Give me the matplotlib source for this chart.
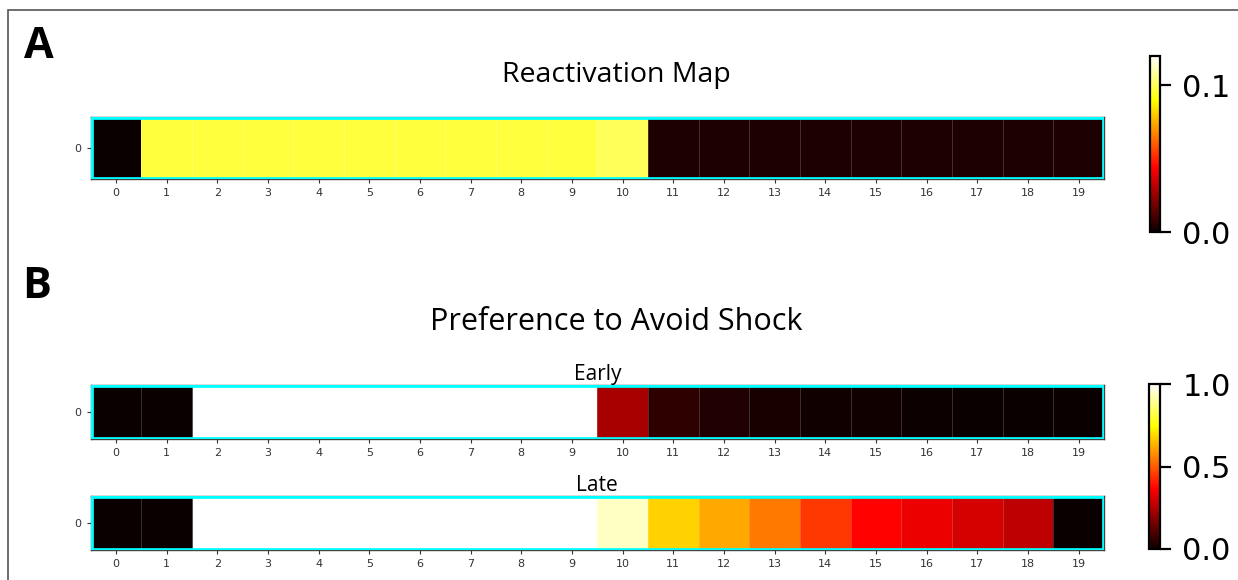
import numpy as np
import matplotlib
matplotlib.use("Agg")
import matplotlib.pyplot as plt
from matplotlib.patches import Rectangle

# reactivation strength per position (panel A)
reactivation = [0.0, 0.0967, 0.0967, 0.0967, 0.0967, 0.0967, 0.0967, 0.0967, 0.0967, 0.0967,
                0.1002, 0.0035, 0.0035, 0.0035, 0.0035, 0.0035, 0.0035, 0.0035, 0.0035, 0.0035]
reactivation_max = 0.12

# preference to avoid shock (panel B), NaN = not tested
pref_early = [0.0, 0.0, np.nan, np.nan, np.nan, np.nan, np.nan, np.nan, np.nan, np.nan,
              0.238, 0.056, 0.035, 0.020, 0.011, 0.009, 0.005, 0.003, 0.002, 0.001]
pref_late = [0.0, 0.0, np.nan, np.nan, np.nan, np.nan, np.nan, np.nan, np.nan, np.nan,
             0.94, 0.676, 0.616, 0.544, 0.449, 0.37, 0.339, 0.302, 0.268, 0.0]

W, H = 1238, 580
fig = plt.figure(figsize=(W / 100, H / 100), dpi=100)


def px(x0, y0, x1, y1):
    return [x0 / W, 1 - y1 / H, (x1 - x0) / W, (y1 - y0) / H]


def strip(rect, values, vmax, title=None):
    ax = fig.add_axes(px(*rect))
    data = np.ma.masked_invalid(np.array(values, dtype=float)[None, :])
    n = data.shape[1]
    mesh = ax.pcolormesh(np.arange(n + 1) - 0.5, [-0.5, 0.5], data, cmap="hot",
                         vmin=0, vmax=vmax, edgecolors=(1, 1, 1, 0.18), linewidth=0.6)
    ax.add_patch(Rectangle((-0.5, -0.5), n, 1, fill=False, edgecolor="cyan",
                           linewidth=3.4, zorder=5))
    ax.set_xlim(-0.5, n - 0.5)
    ax.set_ylim(0.5, -0.5)
    ax.set_xticks(range(n))
    ax.set_yticks([0])
    ax.tick_params(labelsize=8, colors="#333333", length=3)
    for s in ax.spines.values():
        s.set_color("#444444")
        s.set_linewidth(1.0)
    if title:
        ax.set_title(title, fontsize=15, family="Open Sans", pad=2)
    return mesh


def colorbar(mesh, rect, ticks, labels):
    cax = fig.add_axes(px(*rect))
    cb = fig.colorbar(mesh, cax=cax, ticks=ticks)
    cb.set_ticklabels(labels)
    cb.outline.set_linewidth(1.6)
    cax.tick_params(labelsize=22, length=8, width=1.6, pad=8)
    return cb


# panel A
mA = strip((90.6, 117, 1104, 179), reactivation, reactivation_max)
colorbar(mA, (1150, 56, 1160, 232), [0.0, 0.1], ["0.0", "0.1"])
fig.text(616 / W, 1 - 75 / H, "Reactivation Map", ha="center", va="center",
         fontsize=20.5, family="Open Sans")

# panel B
mE = strip((90.6, 385, 1104, 439), pref_early, 1.0, "Early")
strip((90.6, 496, 1104, 550), pref_late, 1.0, "Late")
colorbar(mE, (1149, 384, 1160, 549), [0.0, 0.5, 1.0], ["0.0", "0.5", "1.0"])
fig.text(616 / W, 1 - 322 / H, "Preference to Avoid Shock", ha="center", va="center",
         fontsize=22, family="Open Sans")

# panel letters
fig.text(24 / W, 1 - 46 / H, "A", fontsize=31, fontweight="bold", va="center",
         family="Open Sans")
fig.text(22 / W, 1 - 287 / H, "B", fontsize=31, fontweight="bold", va="center",
         family="Open Sans")

# outer frame
fig.add_artist(Rectangle((8 / W, -0.1), 1.2, 1 - 10 / H + 0.1, transform=fig.transFigure,
                         fill=False, edgecolor="#555555", linewidth=1.2))

fig.savefig("out.png", dpi=100)
